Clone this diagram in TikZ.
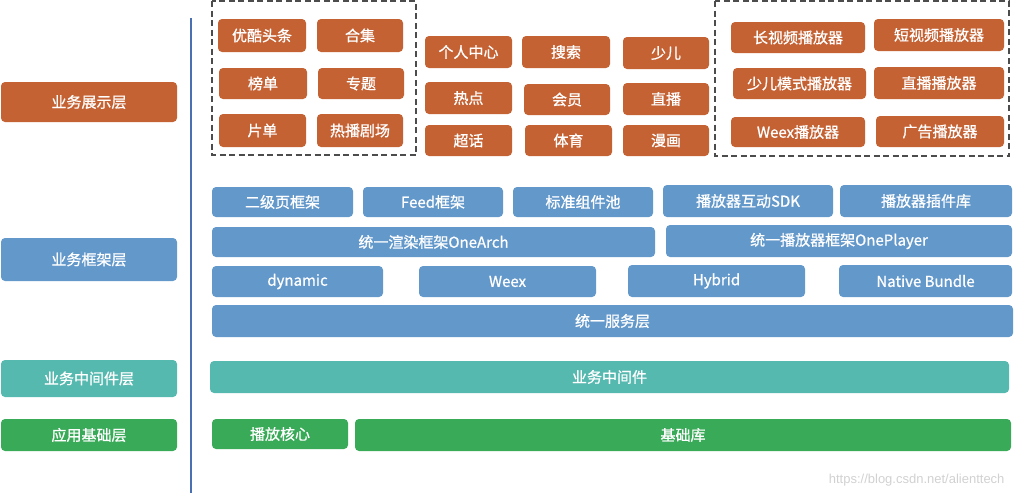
\documentclass[tikz,border=0pt]{standalone}
\usepackage{fontspec}
\newfontfamily\cjk[FakeBold=0.9]{Noto Sans CJK SC}
\usetikzlibrary{positioning}
\definecolor{orangeC}{RGB}{197,98,52}
\definecolor{blueC}{RGB}{99,152,203}
\definecolor{tealC}{RGB}{86,185,176}
\definecolor{greenC}{RGB}{56,170,88}
\definecolor{lineC}{RGB}{75,111,179}
\tikzset{
    box/.style={rounded corners=4pt, text=white, inner sep=0pt,
        font=\cjk\fontsize{15}{15}\selectfont},
    ora/.style={box, fill=orangeC},
    blu/.style={box, fill=blueC},
    tea/.style={box, fill=tealC},
    gre/.style={box, fill=greenC},
    sz/.style 2 args={minimum width=#1, minimum height=#2},
    dashbox/.style={draw=black!70, line width=1.3pt, dash pattern=on 6pt off 3.5pt}
}

\begin{document}
\begin{tikzpicture}[x=1pt, y=-1pt]
\useasboundingbox (0,0) rectangle (1014,496);

% Schichten links
\node[ora, sz={176}{40}] (lzs) at (89,102)   {业务展示层};
\node[blu, sz={176}{43}] (lkj) at (89,259.5) {业务框架层};
\node[tea, sz={176}{37}] (lzj) at (89,378.5) {业务中间件层};
\node[gre, sz={176}{32}] (ljc) at (89,435)   {应用基础层};

% Trennlinie
\draw[lineC, line width=2pt] (191,18) -- (191,493);

% Anzeige: linke Gruppe
\draw[dashbox] (212,1) rectangle (416,155);
\node[ora, sz={88}{33}] (yktt) at (262,35.5)   {优酷头条};
\node[ora, sz={86}{33}] (hj)   at (360,35.5)   {合集};
\node[ora, sz={88}{31}] (bd)   at (263,83.5)   {榜单};
\node[ora, sz={86}{31}] (zt)   at (361,83.5)   {专题};
\node[ora, sz={87}{33}] (pd)   at (262.5,130.5) {片单};
\node[ora, sz={86}{33}] (rbjc) at (360,130.5)  {热播剧场};

% Anzeige: Mitte
\node[ora, sz={87}{32}] (grzx) at (468.5,52)  {个人中心};
\node[ora, sz={88}{32}] (ss)   at (566,52)    {搜索};
\node[ora, sz={86}{32}] (se)   at (666,53)    {少儿};
\node[ora, sz={87}{32}] (rd)   at (468.5,98)  {热点};
\node[ora, sz={86}{31}] (hy)   at (567,99.5)  {会员};
\node[ora, sz={86}{32}] (zb)   at (666,99)    {直播};
\node[ora, sz={87}{31}] (ch)   at (468.5,140.5) {超话};
\node[ora, sz={87}{31}] (ty)   at (568.5,140.5) {体育};
\node[ora, sz={86}{31}] (mh)   at (666,140.5) {漫画};

% Anzeige: Player
\draw[dashbox] (715,1) rectangle (1009,156);
\node[ora, sz={134}{31}] (cspb) at (798,37.5)   {长视频播放器};
\node[ora, sz={130}{32}] (dspb) at (939,35)     {短视频播放器};
\node[ora, sz={133}{31}] (sepb) at (799.5,83.5) {少儿模式播放器};
\node[ora, sz={130}{32}] (zbpb) at (939,83)     {直播播放器};
\node[ora, sz={134}{30}] (wxpb) at (798,132)    {Weex播放器};
\node[ora, sz={128}{31}] (ggpb) at (940,131.5)  {广告播放器};

% Framework
\node[blu, sz={141}{30}] (ejy)   at (282.5,202) {二级页框架};
\node[blu, sz={140}{30}] (feed)  at (433,202)   {Feed框架};
\node[blu, sz={140}{30}] (bzzj)  at (583,202)   {标准组件池};
\node[blu, sz={170}{32}] (hdsdk) at (748,201)   {播放器互动SDK};
\node[blu, sz={172}{32}] (cjk)   at (926,201)   {播放器插件库};
\node[blu, sz={443}{30}] (onearch)   at (433.5,242) {统一渲染框架OneArch};
\node[blu, sz={346}{32}] (oneplayer) at (839,241)   {统一播放器框架OnePlayer};
\node[blu, sz={171}{31}] (dyn)  at (297.5,281.5) {dynamic};
\node[blu, sz={177}{31}] (weex) at (507.5,281.5) {Weex};
\node[blu, sz={177}{32}] (hyb)  at (716.5,281)   {Hybrid};
\node[blu, sz={173}{32}] (nb)   at (925.5,281)   {Native Bundle};
\node[blu, sz={801}{32}] (fwc)  at (612.5,321)   {统一服务层};

% Middleware, Basis
\node[tea, sz={799}{32}] (zjj)  at (609.5,377) {业务中间件};
\node[gre, sz={136}{30}] (bfhx) at (280,434)   {播放核心};
\node[gre, sz={656}{32}] (jck)  at (683,435)   {基础库};

% Wasserzeichen
\node[anchor=east, text=black!18, font=\fontspec{Liberation Sans}\fontsize{13}{13}\selectfont] (wm) at (1008,480) {https://blog.csdn.net/alienttech};
\end{tikzpicture}
\end{document}
